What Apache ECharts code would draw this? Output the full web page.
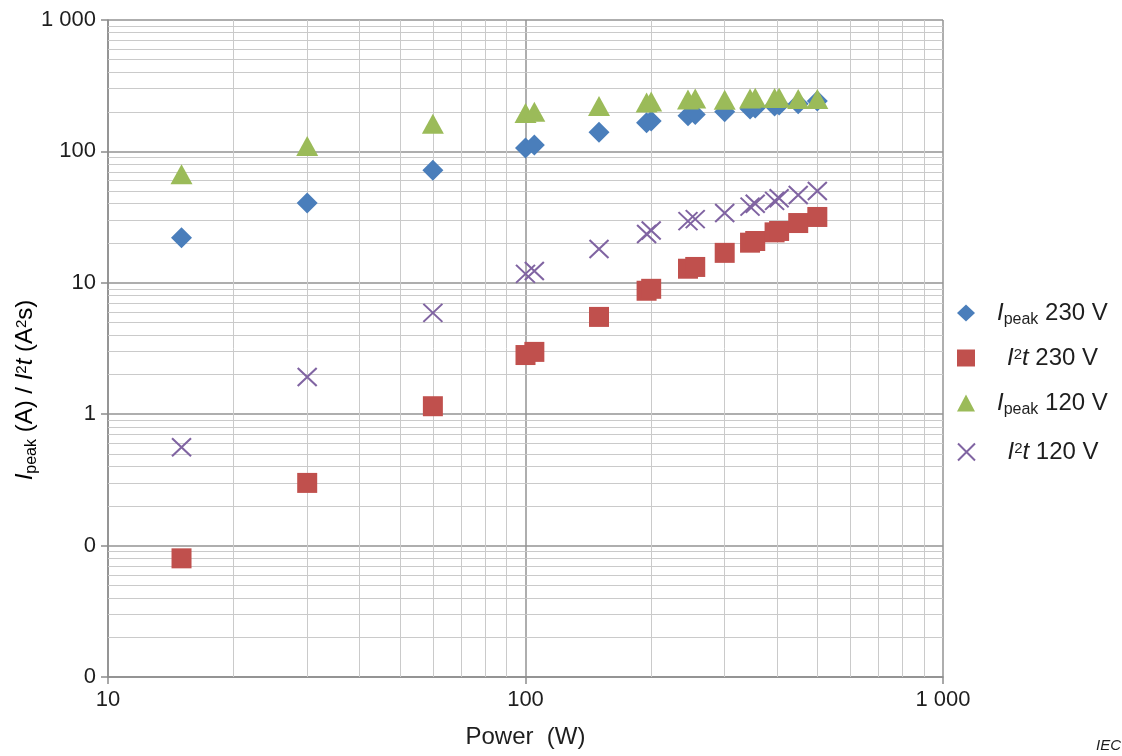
<!DOCTYPE html>
<html>
<head>
<meta charset="utf-8">
<script src="https://cdn.jsdelivr.net/npm/echarts@6/dist/echarts.min.js"></script>
<style>
  html, body { margin: 0; padding: 0; background: #fff; }
  #chart { width: 1122px; height: 756px; }
</style>
</head>
<body>
<div id="chart"></div>
<script>
// power (W) of each measured lamp
const powers = [15, 30, 60, 100, 105, 150, 195, 200, 245, 255, 300, 345, 355, 395, 405, 450, 500];
// I peak (A) and I2t (A2s)
const ipeak230 = [22, 40.5, 72, 106, 112, 140, 165, 170, 187, 191, 200, 210, 214, 222, 225, 230, 242];
const i2t230 = [0.08, 0.30, 1.15, 2.82, 2.98, 5.5, 8.7, 9.0, 12.8, 13.2, 16.9, 20.2, 20.8, 24.2, 24.8, 28.5, 31.7];
const ipeak120 = [67, 110, 162, 196, 200, 222, 236, 240, 248, 253, 247, 253, 256, 255, 256, 250, 250];
const i2t120 = [0.56, 1.92, 5.9, 11.7, 12.3, 18.1, 23.5, 25, 29.5, 30.5, 34, 38, 40, 42, 44, 46.6, 50];

const seriesNames = ["Ipeak 230 V", "I2t 230 V", "Ipeak 120 V", "I2t 120 V"];
const legendLabels = {
  "Ipeak 230 V": "{i|I}{sub|peak}{t| 230 V}",
  "I2t 230 V": "{i|I}{sup|2}{i|t}{t| 230 V}",
  "Ipeak 120 V": "{i|I}{sub|peak}{t| 120 V}",
  "I2t 120 V": "{i|I}{sup|2}{i|t}{t| 120 V}"
};
const legendTops = [301, 343, 391, 437];
const legendPad = [17, 27, 17, 27];

const FONT = '"Liberation Sans", Arial, sans-serif';
const TEXT = "#1e1e1e";

// minor log grid lines (2..9 in each decade)
const minorY = [];
[0.01, 0.1, 1, 10, 100].forEach(d => { for (let k = 2; k <= 9; k++) minorY.push(+(d * k).toPrecision(3)); });
const minorX = [];
[10, 100].forEach(d => { for (let k = 2; k <= 9; k++) minorX.push(d * k); });

function pairs(ys) {
  return powers.map((p, i) => [p, ys[i]]);
}

function fmt(v) {
  if (v < 0.999) return "0";
  return String(Math.round(v)).replace(/\B(?=(\d{3})+(?!\d))/g, " ");
}

const richBase = {
  i: { fontFamily: FONT, fontSize: 24, fontStyle: "italic", color: TEXT, lineHeight: 30 },
  t: { fontFamily: FONT, fontSize: 24, color: TEXT, lineHeight: 30 },
  sub: { fontFamily: FONT, fontSize: 16, color: TEXT, lineHeight: 16, verticalAlign: "bottom" },
  sup: { fontFamily: FONT, fontSize: 15, color: TEXT, lineHeight: 15, verticalAlign: "top", padding: [4, 0, 0, 0] }
};

const chart = echarts.init(document.getElementById("chart"));

const option = {
  backgroundColor: "#fff",
  animation: false,
  grid: { left: 108, right: 179, top: 20, bottom: 79 },
  legend: seriesNames.map((name, i) => ({
    data: [name],
    orient: "vertical",
    left: 957,
    top: legendTops[i],
    padding: 0,
    itemWidth: 18,
    itemHeight: 17,
    formatter: n => legendLabels[n],
    textStyle: { padding: [0, 0, 0, legendPad[i]], rich: richBase }
  })),
  xAxis: {
    type: "log",
    logBase: 10,
    min: 10,
    max: 1000,
    name: "Power  (W)",
    nameLocation: "middle",
    nameGap: 48,
    nameTextStyle: { fontFamily: FONT, fontSize: 24, color: TEXT },
    axisLine: { lineStyle: { color: "#8c8c8c", width: 1.5 } },
    axisTick: { show: true, length: 7, lineStyle: { color: "#8c8c8c", width: 1.5 } },
    axisLabel: { fontFamily: FONT, fontSize: 22, color: TEXT, margin: 12, formatter: fmt },
    splitLine: { show: true, lineStyle: { color: "#939393", width: 1.5 } }
  },
  yAxis: {
    type: "log",
    logBase: 10,
    min: 0.01,
    max: 1000,
    axisLine: { show: true, lineStyle: { color: "#8c8c8c", width: 1.5 } },
    axisTick: { show: true, length: 7, lineStyle: { color: "#8c8c8c", width: 1.5 } },
    axisLabel: { fontFamily: FONT, fontSize: 22, color: TEXT, margin: 12, formatter: fmt },
    splitLine: { show: true, lineStyle: { color: "#939393", width: 1.5 } }
  },
  graphic: [
    {
      type: "text",
      x: 25,
      y: 390,
      rotation: Math.PI / 2,
      style: {
        text: "{i|I}{sub|peak}{t| (A) / }{i|I}{sup|2}{i|t}{t| (A}{sup|2}{t|s)}",
        rich: richBase,
        align: "center",
        verticalAlign: "middle"
      }
    },
    {
      type: "text",
      left: 1096,
      top: 738,
      style: { text: "IEC", fontFamily: FONT, fontSize: 15, fontStyle: "italic", fill: TEXT }
    }
  ],
  series: [
    {
      // minor grid
      type: "line",
      data: [],
      z: 1,
      silent: true,
      markLine: {
        silent: true,
        z: 1,
        symbol: "none",
        animation: false,
        label: { show: false },
        lineStyle: { type: "solid", color: "#cacaca", width: 1 },
        data: minorY.map(v => ({ yAxis: v })).concat(minorX.map(v => ({ xAxis: v })))
      }
    },
    {
      name: seriesNames[0],
      type: "scatter",
      z: 3,
      symbol: "diamond",
      symbolSize: [21, 21],
      itemStyle: { color: "#4a7ebb", opacity: 1 },
      data: pairs(ipeak230)
    },
    {
      name: seriesNames[1],
      type: "scatter",
      z: 3,
      symbol: "rect",
      symbolSize: [20, 20],
      itemStyle: { color: "#c0504d", opacity: 1 },
      data: pairs(i2t230)
    },
    {
      name: seriesNames[2],
      type: "scatter",
      z: 3,
      symbol: "triangle",
      symbolSize: [22, 20],
      itemStyle: { color: "#9bbb59", opacity: 1 },
      data: pairs(ipeak120)
    },
    {
      name: seriesNames[3],
      type: "scatter",
      z: 3,
      symbol: "path://M0,0L20,20M20,0L0,20",
      symbolSize: [19, 18],
      itemStyle: { color: "#8064a2", borderColor: "#8064a2", borderWidth: 2, opacity: 1 },
      data: pairs(i2t120)
    }
  ]
};

chart.setOption(option);
window.addEventListener("resize", function() {
  chart.resize();
});
</script>
</body>
</html>
